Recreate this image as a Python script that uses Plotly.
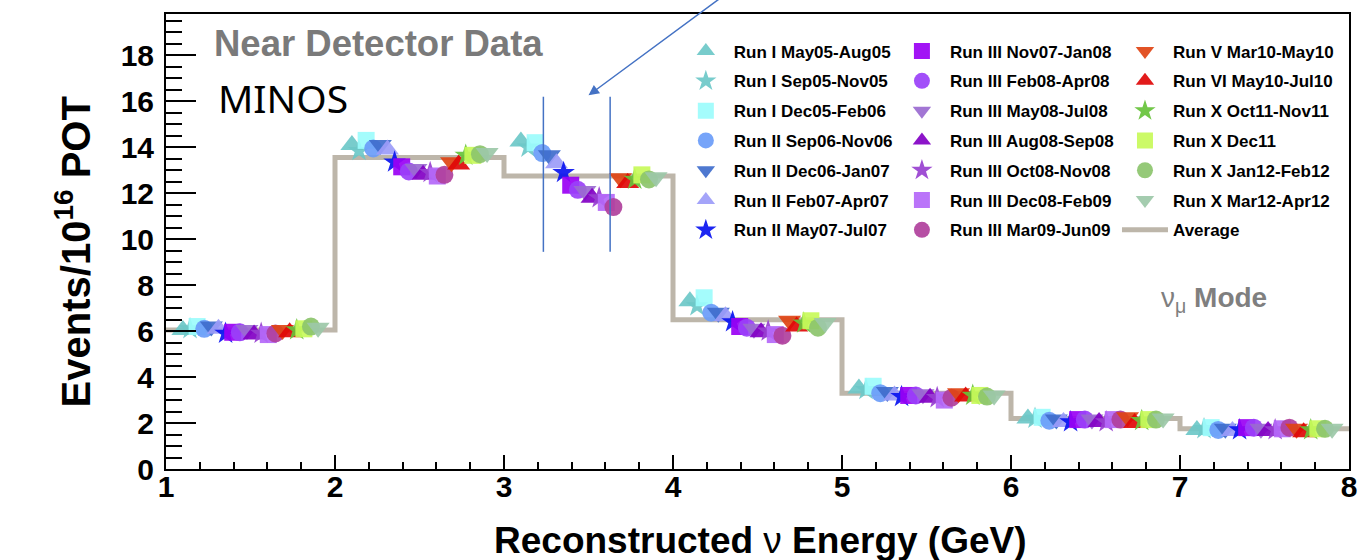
import plotly.graph_objects as go

# ---------------- data ----------------
bin_edges = [1, 2, 3, 4, 5, 6, 7, 8]
average = [6.05, 13.55, 12.75, 6.5, 3.3, 2.2, 1.75]

run_labels = [
    "Run I May05-Aug05", "Run I Sep05-Nov05", "Run I Dec05-Feb06",
    "Run II Sep06-Nov06", "Run II Dec06-Jan07", "Run II Feb07-Apr07",
    "Run II May07-Jul07",
    "Run III Nov07-Jan08", "Run III Feb08-Apr08", "Run III May08-Jul08",
    "Run III Aug08-Sep08", "Run III Oct08-Nov08", "Run III Dec08-Feb09",
    "Run III Mar09-Jun09",
    "Run V Mar10-May10", "Run VI May10-Jul10", "Run X Oct11-Nov11",
    "Run X Dec11", "Run X Jan12-Feb12", "Run X Mar12-Apr12",
]

# events per 1e16 POT, one list per energy bin, ordered as run_labels
events_1_2 = [6.05, 6.1, 6.2, 6.1, 6.2, 6.1, 5.9, 5.95, 5.95, 6.05,
              5.85, 5.9, 5.85, 5.9, 6.05, 5.95, 6.05, 6.1, 6.2, 6.15]
events_2_3 = [14.1, 13.85, 14.3, 13.95, 14.1, 13.9, 13.35, 13.15, 12.95, 13.05,
              12.8, 12.9, 12.75, 12.8, 13.35, 13.25, 13.65, 13.65, 13.7, 13.75]
events_3_4 = [14.25, 14.0, 14.2, 13.75, 13.65, 13.3, 12.9, 12.35, 12.15, 12.1,
              11.8, 11.8, 11.6, 11.4, 12.65, 12.45, 12.6, 12.8, 12.6, 12.7]
events_4_5 = [7.3, 7.1, 7.45, 6.8, 6.8, 6.65, 6.4, 6.2, 6.15, 6.1,
              5.95, 6.0, 5.85, 5.8, 6.45, 6.2, 6.35, 6.45, 6.15, 6.35]
events_5_6 = [3.5, 3.45, 3.6, 3.3, 3.35, 3.2, 3.15, 3.2, 3.2, 3.25,
              3.1, 3.1, 3.0, 3.1, 3.3, 3.15, 3.2, 3.2, 3.15, 3.2]
events_6_7 = [2.2, 2.2, 2.25, 2.1, 2.15, 2.05, 2.05, 2.15, 2.15, 2.15,
              2.05, 2.05, 2.15, 2.15, 2.25, 2.0, 2.1, 2.15, 2.15, 2.2]
events_7_8 = [1.7, 1.75, 1.8, 1.7, 1.75, 1.65, 1.7, 1.8, 1.8, 1.75,
              1.65, 1.7, 1.75, 1.8, 1.75, 1.6, 1.7, 1.75, 1.75, 1.75]
events_by_bin = [events_1_2, events_2_3, events_3_4, events_4_5,
                 events_5_6, events_6_7, events_7_8]

y_ticks = [0, 2, 4, 6, 8, 10, 12, 14, 16, 18]
x_ticks = [1, 2, 3, 4, 5, 6, 7, 8]

# ---------------- styles ----------------
run_symbols = ["triangle-up", "star", "square", "circle", "triangle-down",
               "triangle-up", "star",
               "square", "circle", "triangle-down", "triangle-up", "star",
               "square", "circle",
               "triangle-down", "triangle-up", "star", "square", "circle",
               "triangle-down"]
run_colors = ["#6cc8c8", "#6cc8c8", "#9cfcfc", "#6a9cf8", "#3f6ccc",
              "#9c9cf8", "#0a14f0",
              "#9a00f4", "#9a40f8", "#9a6ad0", "#8200c4", "#9840d0",
              "#b468f8", "#b0409c",
              "#e04414", "#e00808", "#66c23a", "#c8fa5a", "#8cc46c",
              "#9cc8a8"]
sym_size = {"triangle-up": 20, "triangle-down": 20, "circle": 18,
            "square": 17, "star": 17}
legend_of = ["legend"] * 7 + ["legend2"] * 7 + ["legend3"] * 6

FONT = "Liberation Sans, Arial, Helvetica, sans-serif"
NARROW = "Liberation Sans Narrow, Arial Narrow, Liberation Sans, sans-serif"
AVG_COLOR = "#bdb6aa"

fig = go.Figure()

# average step histogram
avg_y = average + [average[-1]]
fig.add_trace(go.Scatter(
    x=bin_edges, y=avg_y, mode="lines", line=dict(shape="hv", color=AVG_COLOR, width=5),
    name="Average", legend="legend3", legendgroup="avg", showlegend=True,
    legendrank=2000,
))

n = len(run_labels)
for s in range(n):
    xs = [bin_edges[b] + 0.1 + 0.8 * s / (n - 1) for b in range(len(events_by_bin))]
    ys = [events_by_bin[b][s] for b in range(len(events_by_bin))]
    fig.add_trace(go.Scatter(
        x=xs, y=ys, mode="markers", name=run_labels[s],
        legend=legend_of[s], legendgroup="g%d" % s,
        marker=dict(symbol=run_symbols[s], color=run_colors[s],
                    size=sym_size[run_symbols[s]], opacity=0.92,
                    line=dict(width=0)),
    ))

L, R, T, B = 166, 15, 14, 91
W, H = 1369, 560
pw, ph = W - L - R, H - T - B

def px_x(px):
    return (px - L) / pw

def px_y(py):
    return (H - B - py) / ph

leg_common = dict(
    font=dict(family=FONT, size=17, color="black", weight="bold"),
    bgcolor="rgba(0,0,0,0)", borderwidth=0, orientation="v",
    itemwidth=46, tracegroupgap=4.7, yanchor="top", xanchor="left",
    y=px_y(33.5), traceorder="grouped", itemsizing="trace",
)

fig.update_layout(
    width=W, height=H,
    margin=dict(l=L, r=R, t=T, b=B),
    paper_bgcolor="white", plot_bgcolor="white",
    font=dict(family=FONT, color="black"),
    legend=dict(x=px_x(680), **leg_common),
    legend2=dict(x=px_x(897), **leg_common),
    legend3=dict(x=px_x(1121), **leg_common),
    xaxis=dict(
        range=[1, 8], tickvals=x_ticks, ticktext=[str(v) for v in x_ticks],
        ticks="inside", ticklen=14, tickwidth=2, tickcolor="black",
        minor=dict(dtick=0.2, tick0=1, ticks="inside", ticklen=7, tickwidth=1.5, tickcolor="black"),
        showline=True, linewidth=2, linecolor="black", mirror=True,
        showgrid=False, zeroline=False,
        tickfont=dict(family=NARROW, size=30, color="black", weight="bold"),
        ticklabelstandoff=-10,
    ),
    yaxis=dict(
        range=[0, 19.8], tickvals=y_ticks, ticktext=[str(v) for v in y_ticks],
        ticks="inside", ticklen=30, tickwidth=2, tickcolor="black",
        minor=dict(dtick=0.5, tick0=0, ticks="inside", ticklen=16, tickwidth=1.5, tickcolor="black"),
        showline=True, linewidth=2, linecolor="black", mirror=True,
        showgrid=False, zeroline=False,
        tickfont=dict(family=NARROW, size=30, color="black", weight="bold"),
        ticklabelstandoff=4,
    ),
    showlegend=True,
)

annotations = [
    dict(text="Reconstructed <span style='font-weight:normal'>ν</span> Energy (GeV)",
         xref="paper", yref="paper", x=px_x(763), y=px_y(540),
         xanchor="center", yanchor="middle", showarrow=False,
         font=dict(family=FONT, size=37, color="black", weight="bold")),
    dict(text="Events/10<sup>16</sup> POT",
         xref="paper", yref="paper", x=px_x(73), y=px_y(252), textangle=-90,
         xanchor="center", yanchor="middle", showarrow=False,
         font=dict(family=FONT, size=40, color="black", weight="bold")),
    dict(text="Near Detector Data", xref="paper", yref="paper",
         x=px_x(212), y=px_y(44), xanchor="left", yanchor="middle", showarrow=False,
         font=dict(family=FONT, size=36.5, color="#7a7a7a", weight="bold")),
    dict(text="MINOS", xref="paper", yref="paper",
         x=px_x(216), y=px_y(97), xanchor="left", yanchor="middle", showarrow=False,
         font=dict(family="Noto Sans, Open Sans, sans-serif", size=39, color="black")),
    dict(text="<span style='font-weight:normal'>ν<sub>μ</sub></span> Mode", xref="paper", yref="paper",
         x=px_x(1218), y=px_y(299), xanchor="center", yanchor="middle", showarrow=False,
         font=dict(family=FONT, size=28, color="#7f7f7f", weight="bold")),
    dict(text="", xref="x", yref="y", x=3.5, y=16.26, axref="x", ayref="y",
         ax=4.3, ay=20.6, showarrow=True, arrowhead=2, arrowsize=1.4,
         arrowwidth=1.5, arrowcolor="#4472c4"),
]
fig.update_layout(annotations=annotations)

for xv in (3.233, 3.628):
    fig.add_shape(type="line", xref="x", yref="y", x0=xv, x1=xv, y0=9.45, y1=16.2,
                  line=dict(color="#4472c4", width=1.5))

fig.write_html("out.html", config={"displayModeBar": False},
               post_script="document.body.style.margin='0';document.body.style.padding='0';")
